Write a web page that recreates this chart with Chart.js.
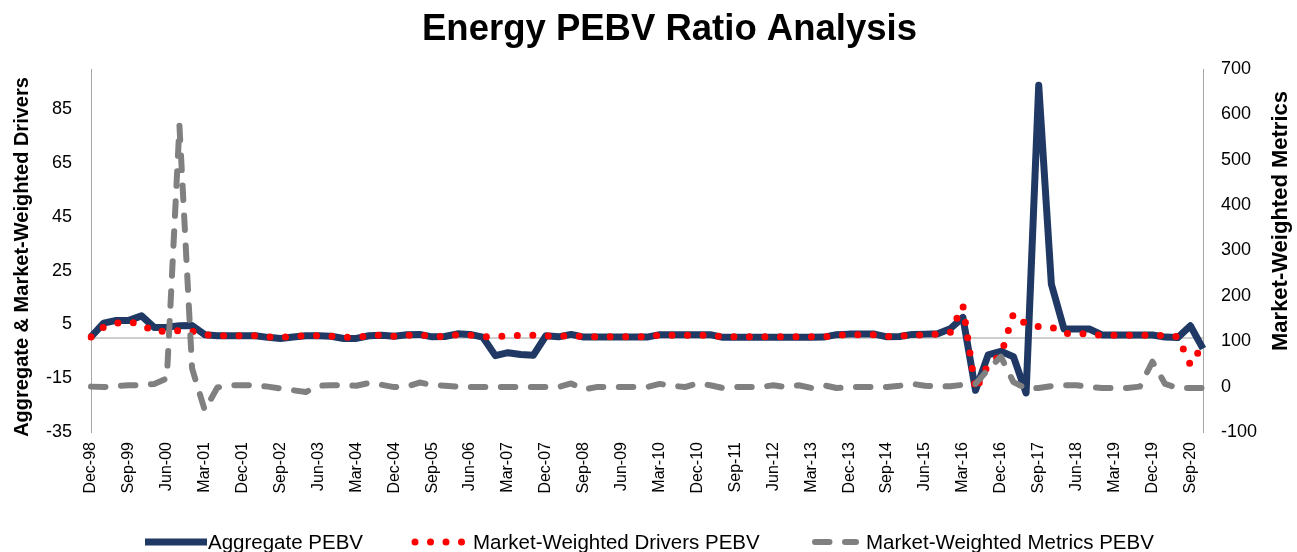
<!DOCTYPE html>
<html>
<head>
<meta charset="utf-8">
<title>Energy PEBV Ratio Analysis</title>
<script src="https://cdn.jsdelivr.net/npm/chart.js@4.4.1/dist/chart.umd.min.js"></script>
<style>
    html, body { margin: 0; padding: 0; background: #fff; }
    #wrap { width: 1297px; height: 552px; }
</style>
</head>
<body>
<div id="wrap"><canvas id="pebvChart" width="1297" height="552"></canvas></div>
<script>
// --- DATA ---
const quarters = [
    'Dec-98', 'Mar-99', 'Jun-99', 'Sep-99', 'Dec-99', 'Mar-00', 'Jun-00', 'Sep-00', 'Dec-00',
    'Mar-01', 'Jun-01', 'Sep-01', 'Dec-01', 'Mar-02', 'Jun-02', 'Sep-02', 'Dec-02',
    'Mar-03', 'Jun-03', 'Sep-03', 'Dec-03', 'Mar-04', 'Jun-04', 'Sep-04', 'Dec-04',
    'Mar-05', 'Jun-05', 'Sep-05', 'Dec-05', 'Mar-06', 'Jun-06', 'Sep-06', 'Dec-06',
    'Mar-07', 'Jun-07', 'Sep-07', 'Dec-07', 'Mar-08', 'Jun-08', 'Sep-08', 'Dec-08',
    'Mar-09', 'Jun-09', 'Sep-09', 'Dec-09', 'Mar-10', 'Jun-10', 'Sep-10', 'Dec-10',
    'Mar-11', 'Jun-11', 'Sep-11', 'Dec-11', 'Mar-12', 'Jun-12', 'Sep-12', 'Dec-12',
    'Mar-13', 'Jun-13', 'Sep-13', 'Dec-13', 'Mar-14', 'Jun-14', 'Sep-14', 'Dec-14',
    'Mar-15', 'Jun-15', 'Sep-15', 'Dec-15', 'Mar-16', 'Jun-16', 'Sep-16', 'Dec-16',
    'Mar-17', 'Jun-17', 'Sep-17', 'Dec-17', 'Mar-18', 'Jun-18', 'Sep-18', 'Dec-18',
    'Mar-19', 'Jun-19', 'Sep-19', 'Dec-19', 'Mar-20', 'Jun-20', 'Sep-20', 'Dec-20'
];

// left axis
const aggregatePEBV = [
    0.4, 5.5, 6.5, 6.5, 8.2, 3.9, 4.0, 4.5, 4.6,
    1.2, 0.8, 0.8, 0.8, 0.8, 0.2, -0.2, 0.3,
    0.8, 0.8, 0.6, -0.2, -0.2, 0.8, 1.0, 0.6,
    1.2, 1.3, 0.4, 0.5, 1.5, 1.3, 0.3, -6.6,
    -5.5, -6.2, -6.5, 0.8, 0.4, 1.3, 0.3, 0.3,
    0.3, 0.3, 0.3, 0.3, 1.2, 1.2, 1.2, 1.2,
    1.2, 0.2, 0.2, 0.2, 0.2, 0.2, 0.2, 0.2,
    0.2, 0.3, 1.2, 1.4, 1.4, 1.4, 0.4, 0.5,
    1.3, 1.4, 1.5, 3.4, 7.6, -19.5, -6.3, -5.0,
    -7.0, -20.5, 94.0, 20.0, 3.3, 3.3, 3.3, 1.1,
    1.1, 1.1, 1.1, 1.1, 0.3, 0.1, 4.5, -4.0
];

// left axis
const driversPEBV = [
    0.3, 4.0, 5.5, 6.0, 5.0, 2.3, 2.6, 2.7, 2.5,
    1.2, 0.8, 0.8, 0.8, 0.8, 0.4, 0.2, 0.5,
    0.8, 0.8, 0.6, 0.2, 0.2, 0.8, 1.0, 0.6,
    1.0, 1.1, 0.5, 0.6, 1.2, 1.0, 0.4, 0.5,
    0.7, 1.0, 1.0, 0.7, 0.5, 1.0, 0.4, 0.4,
    0.4, 0.4, 0.4, 0.4, 1.0, 1.0, 1.0, 1.0,
    1.0, 0.4, 0.4, 0.4, 0.4, 0.4, 0.4, 0.4,
    0.4, 0.4, 1.0, 1.2, 1.2, 1.2, 0.5, 0.6,
    1.1, 1.1, 1.4, 2.0, 12.0, -19.6, -9.8, -6.5,
    9.0, 5.0, 4.2, 4.1, 1.6, 1.6, 1.4, 1.0,
    1.0, 1.0, 1.0, 1.0, 0.8, 0.5, -10.0, -2.5
];

// right axis
const metricsPEBV = [
    0, -1, 1, 3, 3, 6, 18, 575, 40,
    -52, -2, 3, 3, 3, 0, -4, -8,
    -12, 2, 3, 3, 2, 8, 4, -1,
    0, 9, 4, 2, 0, -1, -1, -1,
    -1, -1, -1, -1, -1, 7, -6, -1,
    -1, -1, -1, -1, 6, 2, -1, 7,
    3, -3, -1, -1, -1, 3, -1, 3,
    -3, 3, -3, -1, -1, -1, -1, 2,
    6, 2, 0, 1, 4, 6, 38, 66,
    10, -4, -3, 1, 3, 3, -1, -3,
    -3, -3, 0, 55, 6, -3, -3, -3
];

const leftTicks = [-35, -15, 5, 25, 45, 65, 85];
const rightTicks = [-100, 0, 100, 200, 300, 400, 500, 600, 700];
const LABEL_EVERY = 3;

const FONT = '"Liberation Sans", Arial, Helvetica, sans-serif';

// --- TITLES, ZERO LINE, LEGEND ---
const decor = {
    id: 'decor',
    beforeDatasetsDraw(chart) {
        const { ctx, chartArea: a, scales } = chart;
        const y0 = scales.y.getPixelForValue(0);
        ctx.save();
        ctx.strokeStyle = '#bfbfbf';
        ctx.lineWidth = 1.5;
        ctx.beginPath();
        ctx.moveTo(a.left, y0);
        ctx.lineTo(a.right, y0);
        ctx.stroke();
        ctx.restore();
    },
    afterDraw(chart) {
        const { ctx } = chart;
        ctx.save();
        ctx.fillStyle = '#000';

        // chart title
        ctx.font = 'bold 36.5px ' + FONT;
        ctx.textAlign = 'center';
        ctx.textBaseline = 'alphabetic';
        ctx.fillText('Energy PEBV Ratio Analysis', 669.5, 40);

        // axis titles (both read bottom to top)
        ctx.font = 'bold 20px ' + FONT;
        ctx.save();
        ctx.translate(27.5, 257);
        ctx.rotate(-Math.PI / 2);
        ctx.fillText('Aggregate & Market-Weighted Drivers', 0, 0);
        ctx.restore();

        ctx.font = 'bold 22px ' + FONT;
        ctx.save();
        ctx.translate(1287, 221);
        ctx.rotate(-Math.PI / 2);
        ctx.fillText('Market-Weighted Metrics', 0, 0);
        ctx.restore();

        // legend
        const ly = 542;
        const items = [
            { x: 145, w: 62, tx: 208 },
            { x: 415, w: 48, tx: 473 },
            { x: 815, w: 41, tx: 866 }
        ];
        ctx.font = '20.5px ' + FONT;
        ctx.textAlign = 'left';
        ctx.textBaseline = 'middle';
        chart.data.datasets.forEach((ds, i) => {
            const it = items[i];
            ctx.save();
            ctx.strokeStyle = ds.borderColor;
            ctx.lineWidth = ds.borderWidth;
            ctx.lineCap = ds.borderCapStyle || 'butt';
            ctx.setLineDash(ds.borderDash || []);
            ctx.beginPath();
            ctx.moveTo(it.x, ly);
            ctx.lineTo(it.x + it.w, ly);
            ctx.stroke();
            ctx.restore();
            ctx.fillText(ds.label, it.tx, ly + 1);
        });
        ctx.restore();
    }
};

// --- CHART ---
const ctx = document.getElementById('pebvChart').getContext('2d');
const myChart = new Chart(ctx, {
    type: 'line',
    data: {
        labels: quarters,
        datasets: [{
            label: 'Aggregate PEBV',
            data: aggregatePEBV,
            yAxisID: 'y',
            borderColor: '#1f3864',
            borderWidth: 7,
            borderJoinStyle: 'round',
            borderCapStyle: 'butt',
            pointRadius: 0,
            order: 3
        }, {
            label: 'Market-Weighted Drivers PEBV',
            data: driversPEBV,
            yAxisID: 'y',
            borderColor: '#ff0000',
            borderWidth: 7,
            borderDash: [0, 15.5],
            borderCapStyle: 'round',
            pointRadius: 0,
            order: 2
        }, {
            label: 'Market-Weighted Metrics PEBV',
            data: metricsPEBV,
            yAxisID: 'y1',
            borderColor: '#808080',
            borderWidth: 6,
            borderDash: [14.5, 15.5],
            borderCapStyle: 'round',
            borderJoinStyle: 'round',
            pointRadius: 0,
            order: 1
        }]
    },
    options: {
        responsive: false,
        animation: false,
        devicePixelRatio: 1,
        events: [],
        layout: { padding: { top: 69, bottom: 50, left: 0, right: 0 } },
        plugins: {
            legend: { display: false },
            title: { display: false },
            tooltip: { enabled: false }
        },
        scales: {
            x: {
                type: 'category',
                offset: false,
                grid: { display: false, drawTicks: false },
                border: { display: false },
                ticks: {
                    autoSkip: false,
                    maxRotation: 90,
                    minRotation: 90,
                    padding: 10,
                    color: '#000',
                    font: { family: FONT, size: 16 }
                },
                afterBuildTicks: (axis) => {
                    axis.ticks = axis.ticks.filter((t, i) => i % LABEL_EVERY === 0);
                },
                afterFit: (axis) => { axis.height = 70; }
            },
            y: {
                position: 'left',
                min: -35,
                max: 100,
                grid: { display: false, drawTicks: false },
                border: { display: true, color: '#a6a6a6', width: 1 },
                ticks: {
                    padding: 19,
                    color: '#000',
                    font: { family: FONT, size: 18 }
                },
                afterBuildTicks: (axis) => {
                    axis.ticks = leftTicks.map(v => ({ value: v }));
                },
                afterFit: (axis) => { axis.width = 91; }
            },
            y1: {
                position: 'right',
                min: -100,
                max: 700,
                grid: { display: false, drawTicks: false },
                border: { display: true, color: '#a6a6a6', width: 1 },
                ticks: {
                    padding: 18,
                    color: '#000',
                    font: { family: FONT, size: 18 }
                },
                afterBuildTicks: (axis) => {
                    axis.ticks = rightTicks.map(v => ({ value: v }));
                },
                afterFit: (axis) => { axis.width = 94; }
            }
        }
    },
    plugins: [decor]
});
</script>
</body>
</html>
